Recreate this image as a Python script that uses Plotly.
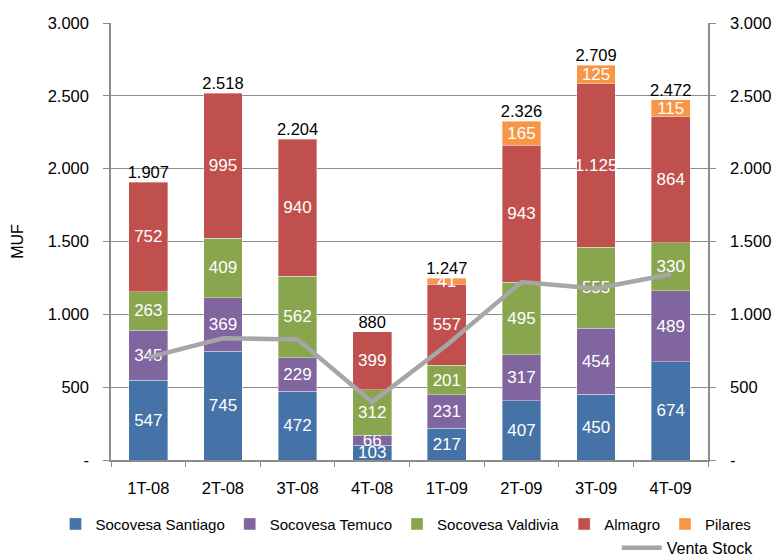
import plotly.graph_objects as go

categories = ["1T-08", "2T-08", "3T-08", "4T-08", "1T-09", "2T-09", "3T-09", "4T-09"]
santiago = [547, 745, 472, 103, 217, 407, 450, 674]
temuco = [345, 369, 229, 66, 231, 317, 454, 489]
valdivia = [263, 409, 562, 312, 201, 495, 555, 330]
almagro = [752, 995, 940, 399, 557, 943, 1125, 864]
pilares = [None, None, None, None, 41, 165, 125, 115]
totals = [1907, 2518, 2204, 880, 1247, 2326, 2709, 2472]
venta_stock = [705, 836, 828, 398, 790, 1222, 1178, 1275]

ytick_vals = [0, 500, 1000, 1500, 2000, 2500, 3000]
ytick_text = ["-", "500", "1.000", "1.500", "2.000", "2.500", "3.000"]

FONT = "Liberation Sans, Arial, sans-serif"
GRID = "#8C8C8C"

series = [
    ("Socovesa Santiago", santiago, "#4572A7"),
    ("Socovesa Temuco", temuco, "#80659F"),
    ("Socovesa Valdivia", valdivia, "#89A54E"),
    ("Almagro", almagro, "#C0504D"),
    ("Pilares", pilares, "#F79646"),
]

fig = go.Figure()
for name, vals, color in series:
    fig.add_trace(go.Bar(
        x=categories, y=vals, name=name,
        marker=dict(color=color, line=dict(color="rgba(255,255,255,0.6)", width=0.6)),
        texttemplate="%{y:,.0f}", textposition="inside", insidetextanchor="middle",
        textangle=0,
        textfont=dict(color="white", size=17, family=FONT),
        constraintext="none", cliponaxis=False,
        legend="legend",
    ))

fig.add_trace(go.Scatter(
    x=categories, y=totals, mode="text",
    text=[f"{v:,}".replace(",", ".") for v in totals],
    textposition="top center",
    textfont=dict(color="black", size=16.5, family=FONT),
    showlegend=False, hoverinfo="skip",
))

fig.add_trace(go.Scatter(
    x=categories, y=venta_stock, mode="lines", name="Venta Stock",
    line=dict(color="#A6A6A6", width=4.5),
    yaxis="y2", legend="legend2",
))

fig.update_layout(
    width=772, height=558,
    barmode="stack", bargap=0.48,
    separators=",.",
    plot_bgcolor="white", paper_bgcolor="white",
    font=dict(family=FONT, size=16, color="black"),
    margin=dict(l=111, r=64, t=23, b=98, autoexpand=False),
    uniformtext=dict(mode="show", minsize=17),
    xaxis=dict(
        type="category", showline=True, linecolor=GRID, linewidth=1.5,
        ticks="outside", tickson="boundaries", ticklen=5, tickcolor=GRID,
        showgrid=False, tickfont=dict(size=16.5, family=FONT),
        ticklabelstandoff=12,
    ),
    yaxis=dict(
        range=[0, 3000], tickvals=ytick_vals, ticktext=ytick_text,
        showline=True, linecolor=GRID, linewidth=1.5,
        ticks="outside", ticklen=6, tickcolor=GRID,
        showgrid=True, gridcolor=GRID, gridwidth=1, zeroline=False,
        title=dict(text="MUF", font=dict(size=16, family=FONT), standoff=20),
        tickfont=dict(size=16.5, family=FONT), ticklabelstandoff=11,
    ),
    yaxis2=dict(
        range=[0, 3000], tickvals=ytick_vals, ticktext=ytick_text,
        overlaying="y", side="right", showline=True, linecolor=GRID, linewidth=1.5,
        ticks="outside", ticklen=6, tickcolor=GRID, showgrid=False, zeroline=False,
        tickfont=dict(size=16.5, family=FONT), ticklabelstandoff=11,
    ),
    legend=dict(
        orientation="h", x=-0.093, y=-0.109, xanchor="left", yanchor="top",
        traceorder="normal",
        font=dict(size=15, family=FONT), itemwidth=30, tracegroupgap=0,
        bgcolor="rgba(0,0,0,0)",
    ),
    legend2=dict(
        orientation="h", x=1.085, y=-0.162, xanchor="right", yanchor="top",
        font=dict(size=16, family=FONT), itemwidth=40,
        bgcolor="rgba(0,0,0,0)",
    ),
)

fig.write_html("out.html", config={"displayModeBar": False},
               post_script="document.body.style.margin='0';")
